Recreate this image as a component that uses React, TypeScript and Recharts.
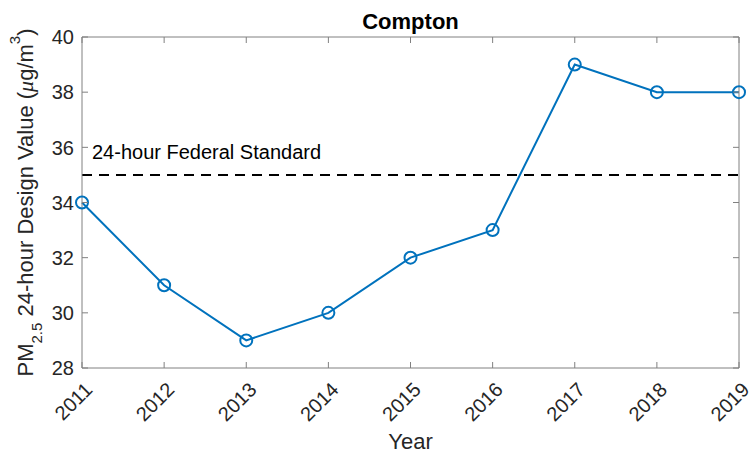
import React from 'react';
import { LineChart, Line, XAxis, YAxis, ReferenceLine } from 'recharts';

const years = [2011, 2012, 2013, 2014, 2015, 2016, 2017, 2018, 2019];
const designValues = [34, 31, 29, 30, 32, 33, 39, 38, 38];
const yTicks = [28, 30, 32, 34, 36, 38, 40];
const standardValue = 35;
const standardLabel = '24-hour Federal Standard';
const title = 'Compton';
const xLabel = 'Year';

const data = years.map((y, i) => ({ year: y, value: designValues[i] }));

const FONT = '"Liberation Sans", Arial, Helvetica, sans-serif';
const TEXT = '#262626';
const AXIS = '#808080';
const BLUE = '#0072BD';
const TL = 6;

const LeftTick = (props: any) => {
  const { x, y, payload } = props;
  return (
    <g>
      <line x1={x} x2={x + TL} y1={y} y2={y} stroke={AXIS} strokeWidth={1} />
      <text x={x - 8} y={y} dy="0.36em" textAnchor="end" fontSize={20} fontFamily={FONT} fill={TEXT}>
        {payload.value}
      </text>
    </g>
  );
};

const RightTick = (props: any) => {
  const { x, y } = props;
  return <line x1={x} x2={x - TL} y1={y} y2={y} stroke={AXIS} strokeWidth={1} />;
};

const BottomTick = (props: any) => {
  const { x, y, payload } = props;
  const ax = x + 11.5;
  const ay = y + 23;
  return (
    <g>
      <line x1={x} x2={x} y1={y} y2={y - TL} stroke={AXIS} strokeWidth={1} />
      <text
        x={ax}
        y={ay}
        textAnchor="end"
        fontSize={20}
        fontFamily={FONT}
        fill={TEXT}
        transform={`rotate(-45, ${ax}, ${ay})`}
      >
        {payload.value}
      </text>
    </g>
  );
};

const TopTick = (props: any) => {
  const { x, y } = props;
  return <line x1={x} x2={x} y1={y} y2={y + TL} stroke={AXIS} strokeWidth={1} />;
};

const TitleLabel = (props: any) => {
  const vb = props.viewBox;
  return (
    <text x={vb.x + vb.width / 2} y={vb.y + vb.height - 8} textAnchor="middle" fontSize={22} fontWeight="bold" fontFamily={FONT} fill="#000">
      {title}
    </text>
  );
};

const XTitle = (props: any) => {
  const vb = props.viewBox;
  return (
    <text x={vb.x + vb.width / 2} y={vb.y + 81} textAnchor="middle" fontSize={22} fontFamily={FONT} fill={TEXT}>
      {xLabel}
    </text>
  );
};

const YTitle = (props: any) => {
  const vb = props.viewBox;
  const cx = 33;
  const cy = vb.y + vb.height / 2;
  return (
    <text
      x={cx}
      y={cy}
      textAnchor="middle"
      fontSize={22}
      fontFamily={FONT}
      fill={TEXT}
      transform={`rotate(-90, ${cx}, ${cy})`}
    >
      <tspan>PM</tspan>
      <tspan fontSize={15} dy={9}>2.5</tspan>
      <tspan dy={-9}> 24-hour Design Value (</tspan>
      <tspan fontStyle="italic" fontFamily='"Liberation Serif", "DejaVu Serif", serif'>μ</tspan>
      <tspan>g/m</tspan>
      <tspan fontSize={15} dy={-13}>3</tspan>
      <tspan dy={13}>)</tspan>
    </text>
  );
};

const StdLabel = (props: any) => {
  const vb = props.viewBox;
  return (
    <text x={vb.x + 10} y={vb.y - 16} fontSize={20} fontFamily={FONT} fill="#000">
      {standardLabel}
    </text>
  );
};

export default function App() {
  return (
    <div style={{ position: 'absolute', left: 0, top: 0, width: 752, height: 454, background: '#fff' }}>
      <LineChart width={752} height={454} data={data} margin={{ top: 36, right: 12, bottom: 0, left: 0 }}>
        <XAxis
          xAxisId="bottom"
          dataKey="year"
          type="number"
          domain={[2011, 2019]}
          ticks={years}
          interval={0}
          height={86}
          tickSize={0}
          tickMargin={0}
          tickLine={false}
          axisLine={{ stroke: AXIS, strokeWidth: 1 }}
          tick={<BottomTick />}
          label={XTitle}
        />
        <XAxis
          xAxisId="top"
          orientation="top"
          dataKey="year"
          type="number"
          domain={[2011, 2019]}
          ticks={years}
          interval={0}
          height={1}
          tickSize={0}
          tickMargin={0}
          tickLine={false}
          axisLine={{ stroke: AXIS, strokeWidth: 1 }}
          tick={<TopTick />}
          label={TitleLabel}
        />
        <YAxis
          yAxisId="left"
          type="number"
          domain={[28, 40]}
          ticks={yTicks}
          interval={0}
          width={82}
          tickSize={0}
          tickMargin={0}
          tickLine={false}
          axisLine={{ stroke: AXIS, strokeWidth: 1 }}
          tick={<LeftTick />}
          label={YTitle}
        />
        <YAxis
          yAxisId="right"
          orientation="right"
          type="number"
          domain={[28, 40]}
          ticks={yTicks}
          interval={0}
          width={1}
          tickSize={0}
          tickMargin={0}
          tickLine={false}
          axisLine={{ stroke: AXIS, strokeWidth: 1 }}
          tick={<RightTick />}
        />
        <ReferenceLine
          xAxisId="bottom"
          yAxisId="left"
          y={standardValue}
          stroke="#000"
          strokeWidth={2}
          strokeDasharray="10 7"
          label={StdLabel}
        />
        <Line
          xAxisId="top"
          yAxisId="right"
          dataKey="value"
          stroke="none"
          dot={false}
          activeDot={false}
          legendType="none"
          isAnimationActive={false}
        />
        <Line
          xAxisId="bottom"
          yAxisId="left"
          dataKey="value"
          stroke={BLUE}
          strokeWidth={2}
          dot={{ r: 6, stroke: BLUE, strokeWidth: 2, fill: 'none' }}
          activeDot={false}
          isAnimationActive={false}
        />
      </LineChart>
    </div>
  );
}
